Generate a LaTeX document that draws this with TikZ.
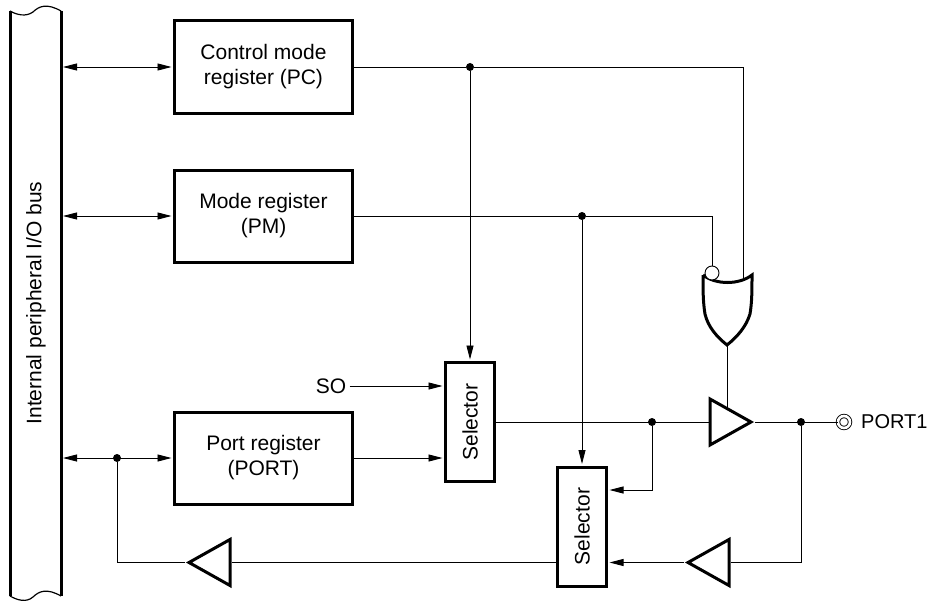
\documentclass[tikz,border=0pt]{standalone}
\usepackage{fontspec}
\usepackage{graphicx}
\setmainfont{Liberation Sans}
\usetikzlibrary{arrows.meta}
\usetikzlibrary{shapes.geometric}

\tikzset{
  wire/.style={line width=0.9pt},
  sig/.style={wire,-{Triangle[length=14pt,width=7pt]},shorten >=1.5pt},
  bisig/.style={wire,{Triangle[length=14pt,width=7pt]}-{Triangle[length=14pt,width=7pt]},shorten >=1.5pt},
  regbox/.style={draw,line width=3pt,minimum width=178pt,minimum height=92pt,align=center,inner sep=0pt},
  selbox/.style={draw,line width=3pt,minimum width=49pt,minimum height=119pt,inner sep=0pt},
  buf/.style={draw,line width=3pt,isosceles triangle,isosceles triangle stretches,
    minimum width=46pt,minimum height=41pt,inner sep=0pt,anchor=lower side},
  jdot/.style={circle,fill=black,inner sep=0pt,minimum size=8pt},
}

\begin{document}
\begin{tikzpicture}[x=1pt,y=-1pt,font=\fontsize{21}{25}\selectfont]
  \useasboundingbox (0,0) rectangle (932,602);
  % bus
  \draw[line width=3pt] (10,11) -- (10,596);
  \draw[line width=3pt] (61,11) -- (61,596);
  \draw[line width=1.2pt] (10,11) .. controls (17,15) and (26,17) .. (33,12) .. controls (39,6) and (47,3) .. (61,11);
  \draw[line width=1.2pt] (10,596) .. controls (17,600) and (26,603) .. (33,597) .. controls (39,591) and (47,588) .. (61,596);
  \node[rotate=90] (bus) at (36,303) {Internal peripheral I/O bus};
  \coordinate (buspc) at (63,67);
  \coordinate (buspm) at (63,216);
  \coordinate (busport) at (63,458);
  % registers
  \node[regbox] (pc) at (263.5,67) {Control mode\\register (PC)};
  \node[regbox] (pm) at (263.5,216) {Mode register\\(PM)};
  \node[regbox] (port) at (263.5,458) {Port register\\(PORT)};
  \node[selbox] (sel1) at (470,422) {\rotatebox{90}{Selector}};
  \node[selbox] (sel2) at (582,526.5) {\rotatebox{90}{Selector}};
  \node (so) at (331,386) {SO};
  % gates
  \node[buf] (buf1) at (708.5,422) {};
  \node[buf,shape border rotate=180] (buf2) at (231.5,562.5) {};
  \node[buf,shape border rotate=180] (buf3) at (730.5,562.5) {};
  \draw[line width=3pt,line join=miter] (703,275) .. controls (716,285) and (739,285) .. (752,275)
    .. controls (752,290) and (752,302) .. (750,314) .. controls (746,327) and (737,337) .. (727,345)
    .. controls (717,337) and (708,327) .. (705,314) .. controls (703,302) and (703,290) .. (703,275);
  \coordinate (orpc) at (743,280);
  \coordinate (orout) at (727,345);
  \coordinate (bufen) at (727,407);
  \node[draw,wire,circle,fill=white,inner sep=0pt,minimum size=14pt] (orinv) at (712,273) {};
  % junctions
  \node[jdot] (pcdot) at (470,67) {};
  \node[jdot] (pmdot) at (582,216) {};
  \node[jdot] (busdot) at (117,458) {};
  \node[jdot] (seldot) at (652,422) {};
  \node[jdot] (portdot) at (801,422) {};
  \node[draw,wire,circle,double,double distance=2.6pt,inner sep=0pt,minimum size=12pt] (portc) at (844,422) {};
  \node[anchor=west,inner sep=0pt,font=\fontsize{20}{24}\selectfont] (porttxt) at (861,422) {PORT1};
  % connectors
  \draw[bisig] (buspc) -- (pc);
  \draw[bisig] (buspm) -- (pm);
  \draw[bisig] (busport) -- (port);
  \draw[wire] (pc) -- (pcdot);
  \draw[wire] (pm) -- (pmdot);
  \draw[wire] (pcdot) -| (orpc);
  \draw[wire] (pmdot) -| (orinv);
  \draw[sig] (pcdot) -- (sel1);
  \draw[sig] (pmdot) -- (sel2);
  \draw[sig] (so) -- (so -| sel1.west);
  \draw[sig] (port) -- (port -| sel1.west);
  \draw[wire] (sel1) -- (buf1.lower side);
  \draw[wire] (orout) -- (bufen);
  \draw[wire] (buf1.apex) -- (portc);
  \draw[sig] (seldot) |- (sel2.east |- 0,490);
  \draw[wire] (portdot) |- (buf3.lower side);
  \draw[sig] (buf3.apex) -- (buf3.apex -| sel2.east);
  \draw[wire] (buf2.lower side -| sel2.west) -- (buf2.lower side);
  \draw[wire] (buf2.apex) -| (busdot);
\end{tikzpicture}
\end{document}
